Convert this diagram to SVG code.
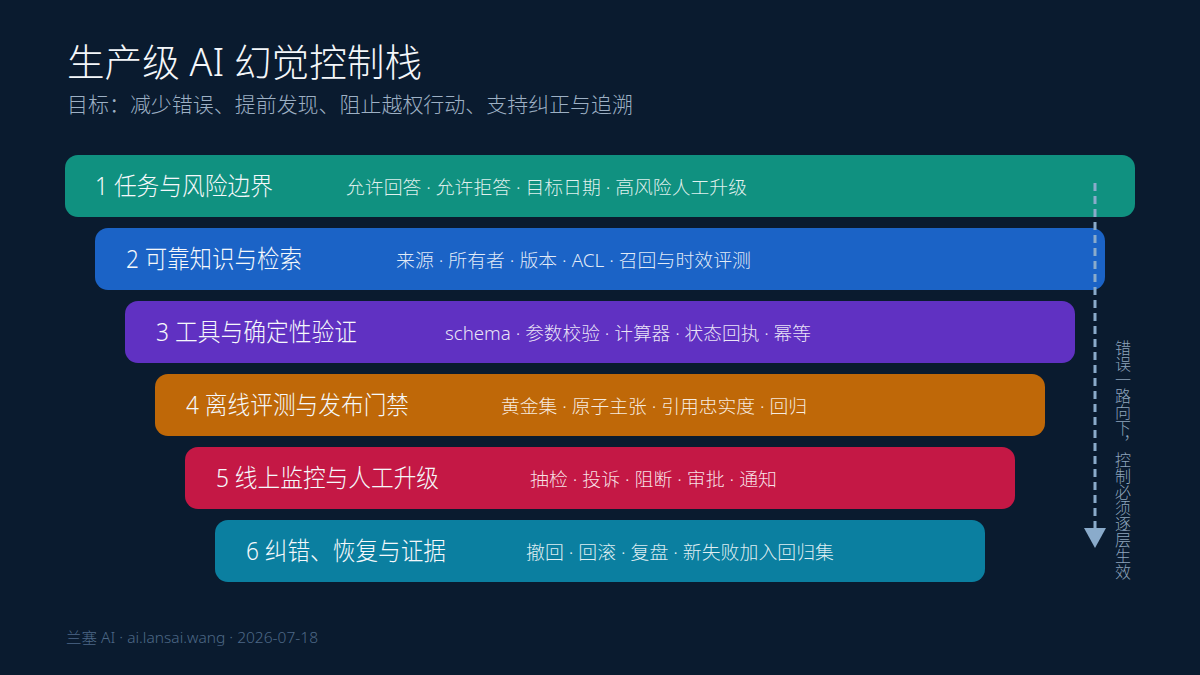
<svg xmlns="http://www.w3.org/2000/svg" width="1200" height="675" viewBox="0 0 1200 675">
<style>
.bg{fill:#0a1b2f}
text{font-family:"Noto Sans","Noto Sans CJK SC",sans-serif;font-weight:300}
.h1{font-size:38px;fill:#f4f7fa}
.sub{font-size:21px;fill:#9db0c4}
.foot{font-size:15px;fill:#4d6886}
.t{font-size:25px;fill:#f5f8fb}
.d{font-size:18.5px;fill:#ffffff;fill-opacity:0.88}
.side{font-family:"Noto Sans CJK SC",sans-serif;font-size:16px;fill:#8ea5bd;writing-mode:vertical-rl}
</style>
<rect class="bg" x="0" y="0" width="1200" height="675"/>
<text class="h1" x="67" y="76" textLength="355" lengthAdjust="spacingAndGlyphs">生产级 AI 幻觉控制栈</text>
<text class="sub" x="67" y="112" textLength="566" lengthAdjust="spacingAndGlyphs">目标：减少错误、提前发现、阻止越权行动、支持纠正与追溯</text>

<g id="layer1">
<rect x="65" y="155" width="1070" height="62" rx="13" fill="#109180"/>
<text class="t" x="95" y="195" textLength="178" lengthAdjust="spacingAndGlyphs">1 任务与风险边界</text>
<text class="d" x="346" y="194" textLength="401" lengthAdjust="spacingAndGlyphs">允许回答 · 允许拒答 · 目标日期 · 高风险人工升级</text>
</g>
<g id="layer2">
<rect x="95" y="228" width="1010" height="62" rx="13" fill="#1b63c6"/>
<text class="t" x="126" y="268" textLength="176" lengthAdjust="spacingAndGlyphs">2 可靠知识与检索</text>
<text class="d" x="396" y="267" textLength="355" lengthAdjust="spacingAndGlyphs">来源 · 所有者 · 版本 · ACL · 召回与时效评测</text>
</g>
<g id="layer3">
<rect x="125" y="301" width="950" height="62" rx="13" fill="#6031c2"/>
<text class="t" x="156" y="341" textLength="201" lengthAdjust="spacingAndGlyphs">3 工具与确定性验证</text>
<text class="d" x="445" y="340" textLength="366" lengthAdjust="spacingAndGlyphs">schema · 参数校验 · 计算器 · 状态回执 · 幂等</text>
</g>
<g id="layer4">
<rect x="155" y="374" width="890" height="62" rx="13" fill="#bf6808"/>
<text class="t" x="186" y="414" textLength="223" lengthAdjust="spacingAndGlyphs">4 离线评测与发布门禁</text>
<text class="d" x="501" y="413" textLength="306" lengthAdjust="spacingAndGlyphs">黄金集 · 原子主张 · 引用忠实度 · 回归</text>
</g>
<g id="layer5">
<rect x="185" y="447" width="830" height="62" rx="13" fill="#c41845"/>
<text class="t" x="216" y="487" textLength="223" lengthAdjust="spacingAndGlyphs">5 线上监控与人工升级</text>
<text class="d" x="530" y="486" textLength="247" lengthAdjust="spacingAndGlyphs">抽检 · 投诉 · 阻断 · 审批 · 通知</text>
</g>
<g id="layer6">
<rect x="215" y="520" width="770" height="62" rx="13" fill="#0b7fa0"/>
<text class="t" x="246" y="560" textLength="200" lengthAdjust="spacingAndGlyphs">6 纠错、恢复与证据</text>
<text class="d" x="526" y="559" textLength="308" lengthAdjust="spacingAndGlyphs">撤回 · 回滚 · 复盘 · 新失败加入回归集</text>
</g>

<g id="connectors">
<line x1="1095" y1="183" x2="1095" y2="530" stroke="#8aabcb" stroke-width="3" stroke-dasharray="8 5"/>
<polygon points="1084,528 1106,528 1095,548" fill="#8aabcb"/>
</g>
<text class="side" x="1123" y="340">错误一路向下，控制必须逐层生效</text>

<text class="foot" x="66" y="643" textLength="252" lengthAdjust="spacingAndGlyphs">兰塞 AI · ai.lansai.wang · 2026-07-18</text>
</svg>
